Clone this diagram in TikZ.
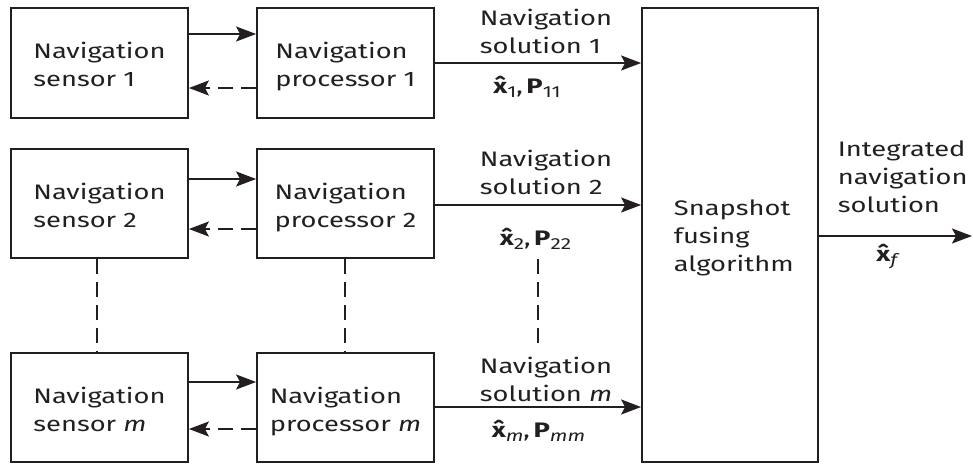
\documentclass[tikz,border=0pt]{standalone}
\usepackage{fontspec}
\setmainfont{Fira Sans}[FakeStretch=1.3]
\usetikzlibrary{arrows.meta}
\definecolor{ink}{HTML}{231F20}
\newcommand\hatx{{\bfseries\^{x}}}
\newcommand\bfP{{\bfseries P}}
\newcommand\sbs[1]{\raisebox{-4.5pt}{\fontsize{16}{16}\selectfont #1}}
\begin{document}
\begin{tikzpicture}[x=1pt,y=-1pt,
  line width=1.8pt, draw=ink,
  txt/.style={font=\fontsize{21}{28}\selectfont, text=ink},
  blk/.style={draw=ink, txt, inner sep=0pt, align=left,
    minimum width=177pt, minimum height=110pt,
    text height=47pt, text depth=0pt},
  lbl/.style={txt, inner sep=0pt, align=left, anchor=base west},
  mth/.style={txt, inner sep=0pt, anchor=base},
  tip/.style={-{Stealth[length=20pt,width=15pt,inset=4pt]}},
  back/.style={tip, dash pattern=on 15pt off 8pt},
  vdash/.style={line width=2pt, dash pattern=on 15pt off 8pt}]
\useasboundingbox (0,0) rectangle (973,463);

% sensors and processors
\node[blk] (s1) at (99.5,63) {Navigation\\sensor 1};
\node[blk] (p1) at (345.5,63) {Navigation\\processor 1};
\node[blk, minimum height=109pt] (s2) at (99.5,203.5) {Navigation\\sensor 2};
\node[blk, minimum height=109pt] (p2) at (345.5,203.5) {Navigation\\processor 2};
\node[blk, minimum height=109pt] (sm) at (99.5,407.5) {Navigation\\sensor \textit{m}};
\node[blk, minimum height=109pt] (pm) at (345.5,407.5) {Navigation\\processor \textit{m}};

% fusion block
\node[draw=ink, minimum width=176pt, minimum height=454pt, inner sep=0pt] (fuse) at (730,235) {};
\node[lbl] (fuset) at (673,271) {Snapshot\\fusing\\algorithm};

% row levels
\coordinate (r1a) at (0,34);  \coordinate (r1b) at (0,88);  \coordinate (r1o) at (0,63);
\coordinate (r2a) at (0,179); \coordinate (r2b) at (0,229); \coordinate (r2o) at (0,205);
\coordinate (rma) at (0,382); \coordinate (rmb) at (0,429); \coordinate (rmo) at (0,407);
\coordinate (outend) at (972,236);
\coordinate (vs) at (97,0);
\coordinate (vp) at (345,0);
\coordinate (d1) at (538,259);
\coordinate (d2) at (538,345);

% sensor <-> processor links
\draw[tip] (s1.east |- r1a) -- (p1.west |- r1a);
\draw[back] (p1.west |- r1b) -- (s1.east |- r1b);
\draw[tip] (s2.east |- r2a) -- (p2.west |- r2a);
\draw[back] (p2.west |- r2b) -- (s2.east |- r2b);
\draw[tip] (sm.east |- rma) -- (pm.west |- rma);
\draw[back] (pm.west |- rmb) -- (sm.east |- rmb);

% solutions into the fusion block
\draw[tip] (p1.east |- r1o) -- (fuse.west |- r1o);
\draw[tip] (p2.east |- r2o) -- (fuse.west |- r2o);
\draw[tip] (pm.east |- rmo) -- (fuse.west |- rmo);
\draw[tip] (fuse.east |- outend) -- (outend);

% elided rows
\draw[vdash] (s2.south -| vs) -- (sm.north -| vs);
\draw[vdash] (p2.south -| vp) -- (pm.north -| vp);
\draw[vdash] (d1) -- (d2);

% labels
\node[lbl] (n1) at (479,53) {Navigation\\solution 1};
\node[lbl] (n2) at (479,194) {Navigation\\solution 2};
\node[lbl] (nm) at (479,401) {Navigation\\solution \textit{m}};
\node[mth] (e1) at (527,93) {\hatx\sbs{1},\,\bfP\sbs{11}};
\node[mth] (e2) at (535.5,245) {\hatx\sbs{2},\,\bfP\sbs{22}};
\node[mth] (em) at (538.5,437) {\hatx\sbs{\textit{m}},\,\bfP\sbs{\textit{mm}}};
\node[lbl] (ni) at (837,212) {Integrated\\navigation\\solution};
\node[mth] (ef) at (888,261) {\hatx\sbs{\textit{f}}};
\end{tikzpicture}
\end{document}
